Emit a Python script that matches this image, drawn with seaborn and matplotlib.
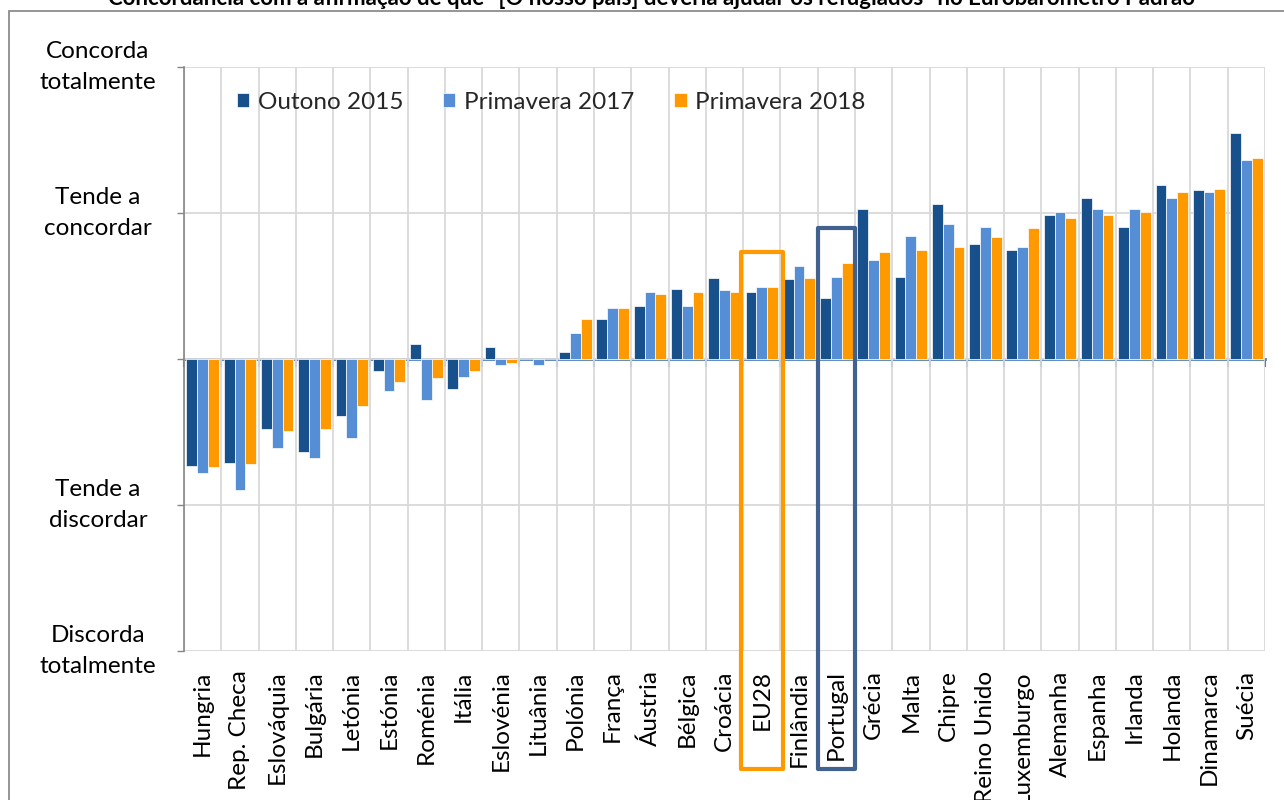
import numpy as np
import pandas as pd
import matplotlib
matplotlib.use("Agg")
import matplotlib.pyplot as plt
from matplotlib.patches import Rectangle
import seaborn as sns

# Mean agreement per country (scale: -2 = discorda totalmente ... +2 = concorda totalmente)
countries = ["Hungria", "Rep. Checa", "Eslováquia", "Bulgária", "Letónia", "Estónia",
             "Roménia", "Itália", "Eslovénia", "Lituânia", "Polónia", "França", "Áustria",
             "Bélgica", "Croácia", "EU28", "Finlândia", "Portugal", "Grécia", "Malta",
             "Chipre", "Reino Unido", "Luxemburgo", "Alemanha", "Espanha", "Irlanda",
             "Holanda", "Dinamarca", "Suécia"]

outono_2015 = [-0.73, -0.71, -0.48, -0.64, -0.39, -0.085, 0.105, -0.205, 0.085, np.nan,
               0.045, 0.275, 0.365, 0.48, 0.555, 0.46, 0.545, 0.415, 1.025, 0.565,
               1.065, 0.79, 0.745, 0.985, 1.105, 0.905, 1.195, 1.155, 1.545]
primavera_2017 = [-0.78, -0.90, -0.61, -0.68, -0.54, -0.22, -0.28, -0.125, -0.04, -0.04,
                  0.175, 0.35, 0.46, 0.365, 0.47, 0.495, 0.635, 0.565, 0.675, 0.845,
                  0.925, 0.905, 0.765, 1.005, 1.025, 1.025, 1.105, 1.145, 1.365]
primavera_2018 = [-0.74, -0.72, -0.49, -0.48, -0.32, -0.155, -0.13, -0.085, -0.03, np.nan,
                  0.275, 0.35, 0.445, 0.46, 0.46, 0.495, 0.555, 0.655, 0.735, 0.745,
                  0.765, 0.835, 0.895, 0.965, 0.985, 1.005, 1.145, 1.165, 1.375]

series_names = ["Outono 2015", "Primavera 2017", "Primavera 2018"]
series_colors = ["#17508A", "#558ED5", "#FF9900"]

scale_values = [-2, -1, 0, 1, 2]
scale_labels = ["Discorda\ntotalmente", "Tende a\ndiscordar", "",
                "Tende a\nconcordar", "Concorda\ntotalmente"]

title = ("Concordância com a afirmação de que \"[O nosso país] deveria ajudar os "
         "refugiados\" no Eurobarómetro Padrão")

# highlighted categories: outline colour and half-width (in category units)
highlights = {"EU28": ("#FF9900", 0.57), "Portugal": ("#41618F", 0.50)}

# long-form table for seaborn
frames = []
for name, vals in zip(series_names, [outono_2015, primavera_2017, primavera_2018]):
    frames.append(pd.DataFrame({"País": countries, "Valor": vals, "Série": name}))
df = pd.concat(frames, ignore_index=True).dropna()

sns.set_theme(style="white")
plt.rcParams["font.family"] = ["Lato", "DejaVu Sans"]

W, H = 1284, 800
fig = plt.figure(figsize=(W / 100, H / 100), dpi=100)
ax = fig.add_axes([184 / W, 1 - 651 / H, (1265 - 184) / W, (651 - 67) / H])

sns.barplot(data=df, x="País", y="Valor", hue="Série", order=countries,
            hue_order=series_names, palette=series_colors, saturation=1,
            width=0.87, gap=0, edgecolor="white", linewidth=0.5, errorbar=None,
            ax=ax, zorder=3)

n = len(countries)
ax.set_xlim(-0.5, n - 0.5)
ax.set_ylim(-2, 2)
ax.set_xlabel("")
ax.set_ylabel("")

grid_color = "#D9D9D9"
axis_gray = "#868686"
fs = 17.5

# y axis: verbal scale
ax.set_yticks(scale_values)
ax.set_yticklabels(scale_labels, ha="center", va="center", multialignment="center",
                   fontsize=fs, color="black", linespacing=1.55)
ax.tick_params(axis="y", which="major", direction="out", length=5, width=1,
               color=axis_gray, pad=57, left=True)
ax.yaxis.grid(True, color=grid_color, linewidth=1.3, zorder=0)

# x axis: category labels at the bottom, vertical separators between categories
boundaries = np.arange(n + 1) - 0.5
ax.set_xticks(np.arange(n))
ax.set_xticklabels(countries, rotation=90, fontsize=fs, color="black")
ax.set_xticks(boundaries, minor=True)
ax.tick_params(axis="x", which="both", length=0, pad=14)
ax.xaxis.grid(True, which="minor", color=grid_color, linewidth=1.3, zorder=0)
ax.xaxis.grid(False, which="major")
ax.set_axisbelow(True)

for side in ["top", "right", "bottom"]:
    ax.spines[side].set_visible(False)
ax.spines["left"].set_color(axis_gray)
ax.spines["left"].set_linewidth(1.2)

# zero line with tick marks at category boundaries
zero_axis = ax.secondary_xaxis(0.5)
zero_axis.set_alignment("bottom")
zero_axis.set_xticks(boundaries)
zero_axis.tick_params(axis="x", direction="out", length=6, width=1.5,
                      color="#4F81BD", labelbottom=False, labeltop=False)
zero_axis.spines["bottom"].set_color("#4F81BD")
zero_axis.spines["bottom"].set_linewidth(2)
zero_axis.spines["top"].set_visible(False)

# legend
handles, labels = ax.get_legend_handles_labels()
ax.legend(handles, labels, loc="center left", bbox_to_anchor=(0.049, 0.94), ncol=3,
          frameon=False, fontsize=fs, handlelength=0.5, handleheight=0.5,
          handletextpad=0.35, columnspacing=1.65, borderpad=0, borderaxespad=0)

# outlines around highlighted categories
values = np.array([outono_2015, primavera_2017, primavera_2018], dtype=float)
for name, (color, half) in highlights.items():
    i = countries.index(name)
    top = np.nanmax(values[:, i]) + 0.24
    bottom = -2.81
    ax.add_patch(Rectangle((i - half, bottom), 2 * half, top - bottom, fill=False,
                           edgecolor=color, linewidth=3, joinstyle="round",
                           clip_on=False, zorder=5))

# chart frame and title
fig.add_artist(Rectangle((9 / W, -0.05), 1.1, (H - 11) / H + 0.05,
                         transform=fig.transFigure, fill=False,
                         edgecolor="#8C8C8C", linewidth=1.3))
fig.text(651 / W, 1 - 5 / H, title, ha="center", va="baseline",
         fontsize=16, fontweight="bold", color="black")

fig.savefig("out.png", dpi=100)
